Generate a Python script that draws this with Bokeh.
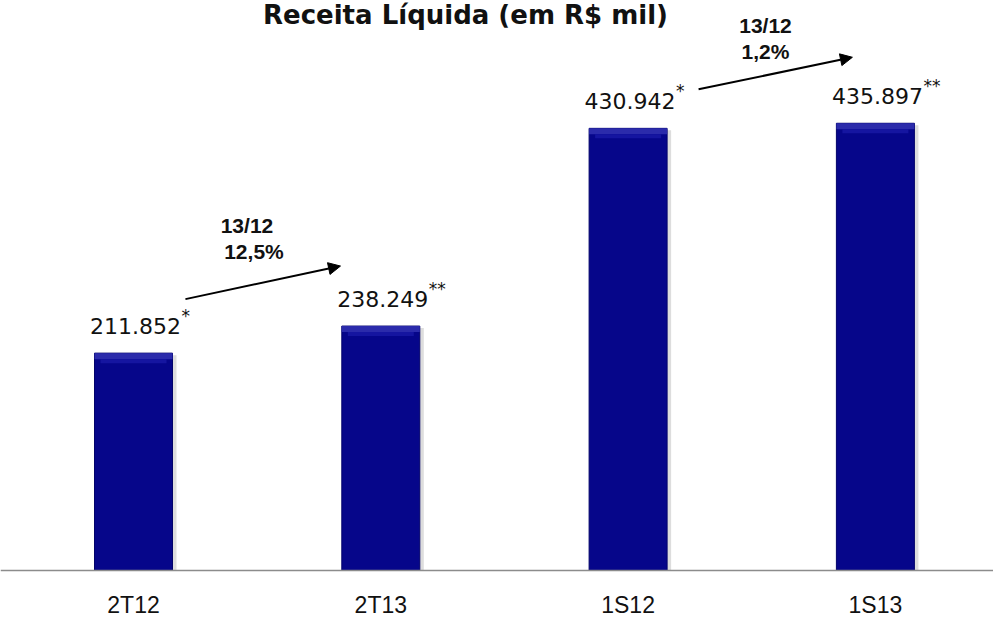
from bokeh.plotting import figure
from bokeh.models import Range1d, ColumnDataSource, Arrow, NormalHead, Label, Span
from bokeh.core.properties import value
from bokeh.embed import file_html
from bokeh.resources import INLINE

# ---- data ----
categories = ["2T12", "2T13", "1S12", "1S13"]
receita = [211.852, 238.249, 430.942, 435.897]
value_labels = ["211.852", "238.249", "430.942", "435.897"]
footnote_marks = ["*", "**", "*", " **"]
growth_pairs = [(0, 1), (2, 3)]
growth_period = ["13/12", "13/12"]
growth_pct = ["12,5%", "1,2%"]
title_text = "Receita Líquida (em R$ mil)"

# ---- layout ----
W, H = 993, 619
base_px = 570            # baseline position from figure top
px_per_unit = 1.026
px_per_cat = 247.3
first_center_px = 133
x_start = -first_center_px / px_per_cat
x_end = (W - first_center_px) / px_per_cat
y_start = -(H - base_px) / px_per_unit
y_end = base_px / px_per_unit

def px_y(px):
    return px / px_per_unit

def px_x(px):
    return px / px_per_cat

p = figure(width=W, height=H, output_backend="svg", toolbar_location=None,
           x_range=Range1d(x_start, x_end), y_range=Range1d(y_start, y_end),
           min_border_left=0, min_border_right=0, min_border_top=0, min_border_bottom=0)
p.outline_line_color = None
p.grid.visible = False
p.axis.visible = False
p.background_fill_color = "white"
p.border_fill_color = "white"

xs = list(range(len(categories)))
bar_w = px_x(78)
src = ColumnDataSource(dict(x=xs, top=receita, lab=value_labels, mark=footnote_marks, cat=categories,
                            zero=[0] * len(xs)))

# shadow
p.vbar(x=[x + px_x(4) for x in xs], top=[v - px_y(2) for v in receita], width=bar_w,
       fill_color="#cfcfcf", line_color=None, fill_alpha=0.7)
# bars
p.vbar(x="x", top="top", width=bar_w, source=src, fill_color="#06068A", line_color="#03036a", line_width=1)
# top bevel
p.quad(left=[x - bar_w / 2 for x in xs], right=[x + bar_w / 2 for x in xs],
       bottom=[v - px_y(6) for v in receita], top=receita,
       fill_color="#2b2bab", line_color=None)
p.quad(left=[x - bar_w / 2 + px_x(6) for x in xs], right=[x + bar_w / 2 - px_x(6) for x in xs],
       bottom=[v - px_y(10) for v in receita], top=[v - px_y(6) for v in receita],
       fill_color="#1515a0", line_color=None)

# baseline
p.add_layout(Span(location=0, dimension="width", line_color="#8c8c8c", line_width=1.5))

# category labels
p.text(x="x", y="zero", text="cat", source=src, text_align="center", text_baseline="middle",
       y_offset=34, text_font=value("Liberation Sans"), text_font_size="23px", text_color="#111111")

# value labels
p.text(x="x", y="top", text="lab", source=src, text_align="center", text_baseline="alphabetic",
       x_offset=2, y_offset=-27, text_font=value("DejaVu Sans"), text_font_size="22px", text_color="#111111")
p.text(x="x", y="top", text="mark", source=src, text_align="left", text_baseline="alphabetic",
       x_offset=48, y_offset=-37, text_font=value("DejaVu Sans"), text_font_size="17px", text_color="#111111")

# growth arrows and texts
arrow_geom = [((0.21, 54), (-0.163, 60)), ((0.285, 39), (-0.093, 66))]
for k, (i, j) in enumerate(growth_pairs):
    (dx0, dy0), (dx1, dy1) = arrow_geom[k]
    xa, ya = i + dx0, receita[i] + px_y(dy0)
    xb, yb = j + dx1, receita[j] + px_y(dy1)
    p.add_layout(Arrow(x_start=xa, y_start=ya, x_end=xb, y_end=yb, line_width=2, line_color="black",
                       end=NormalHead(size=12, fill_color="black", line_color="black")))
    xm = (xa + xb) / 2 + px_x(-16 if k == 0 else -10)
    ym = max(ya, yb)
    p.text(x=[xm], y=[ym], text=[growth_period[k]], text_align="center", text_baseline="alphabetic",
           y_offset=-41 if k == 0 else -32, text_font=value("Liberation Sans"), text_font_style="bold",
           text_font_size="21px", text_color="#111111")
    p.text(x=[xm + px_x(7 if k == 0 else 0)], y=[ym], text=[growth_pct[k]], text_align="center",
           text_baseline="alphabetic", y_offset=-15 if k == 0 else -6, text_font=value("Liberation Sans"),
           text_font_style="bold", text_font_size="21px", text_color="#111111")

# title
p.add_layout(Label(x=465, y=H - 14, x_units="screen", y_units="screen", text=title_text,
                   text_align="center", text_baseline="alphabetic", text_font="DejaVu Sans",
                   text_font_style="bold", text_font_size="26px", text_color="#111111"))

open("out.html", "w").write(file_html(p, INLINE))
